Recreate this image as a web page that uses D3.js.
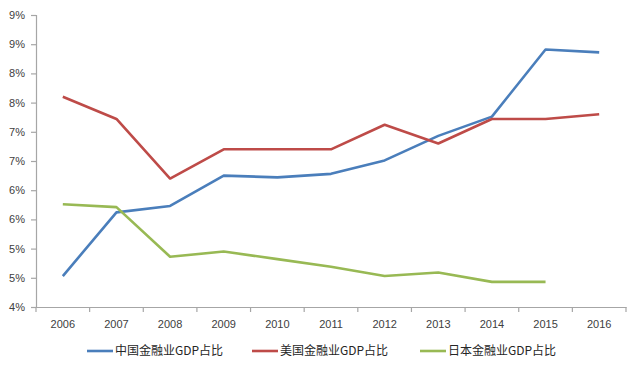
<!DOCTYPE html>
<html><head><meta charset="utf-8">
<script src="https://cdn.jsdelivr.net/npm/d3@7"></script>
<style>body{margin:0;background:#fff}svg{display:block}</style>
</head><body><svg id="c" width="640" height="371"></svg>
<script>
const years = ["2006","2007","2008","2009","2010","2011","2012","2013","2014","2015","2016"];
const china = [4.53,5.62,5.73,6.25,6.22,6.28,6.51,6.93,7.26,8.41,8.36];
const usa   = [7.60,7.22,6.20,6.70,6.70,6.70,7.12,6.80,7.22,7.22,7.30];
const japan = [5.76,5.71,4.86,4.95,4.82,4.69,4.53,4.59,4.43,4.43,null];
const seriesNames = ["中国金融业GDP占比","美国金融业GDP占比","日本金融业GDP占比"];
const colors = ["#4a7ebb","#be4b48","#98b954"];
const yTicks = [4,4.5,5,5.5,6,6.5,7,7.5,8,8.5,9];

const svg = d3.select("#c");
const font = "'Liberation Sans', Arial, sans-serif";
const x = d3.scaleBand().domain(years).range([36,626]);
const y = d3.scaleLinear().domain([4,9]).range([307,15]);
const fmt = v => Math.floor(v + 0.5) + "%";

const ya = svg.append("g").attr("transform","translate(36,0)")
  .call(d3.axisLeft(y).tickValues(yTicks).tickFormat(fmt).tickSize(5).tickPadding(6));
const xa = svg.append("g").attr("transform","translate(0,307)")
  .call(d3.axisBottom(x).tickSize(0).tickPadding(13));
// boundary ticks for x axis
const bounds = d3.range(years.length+1).map(i => 36 + i*x.step());
xa.selectAll("line.b").data(bounds).enter().append("line").attr("class","b")
  .attr("x1",d=>d).attr("x2",d=>d).attr("y1",0).attr("y2",5);
[ya,xa].forEach(g=>{
  g.selectAll("path.domain").attr("stroke","#a6a6a6").attr("stroke-width",1.2);
  g.selectAll("line").attr("stroke","#a6a6a6").attr("stroke-width",1.2);
  g.selectAll("text").attr("fill","#404040").style("font-family",font).style("font-size","11px");
});

const line = d3.line().defined(d=>d!=null)
  .x((d,i)=>x(years[i])+x.bandwidth()/2).y(d=>y(d));
[china,usa,japan].forEach((s,k)=>{
  svg.append("path").datum(s).attr("d",line).attr("fill","none")
    .attr("stroke",colors[k]).attr("stroke-width",2.6).attr("stroke-linejoin","round");
});

const legX = [87,252,420];
seriesNames.forEach((n,k)=>{
  svg.append("line").attr("x1",legX[k]).attr("x2",legX[k]+26).attr("y1",351).attr("y2",351)
    .attr("stroke",colors[k]).attr("stroke-width",2.6);
  svg.append("text").attr("x",legX[k]+28).attr("y",351).attr("dy","0.35em")
    .attr("fill","#262626").style("font-family","'Noto Sans CJK SC', sans-serif").style("font-size","12px").text(n);
});
</script></body></html>
